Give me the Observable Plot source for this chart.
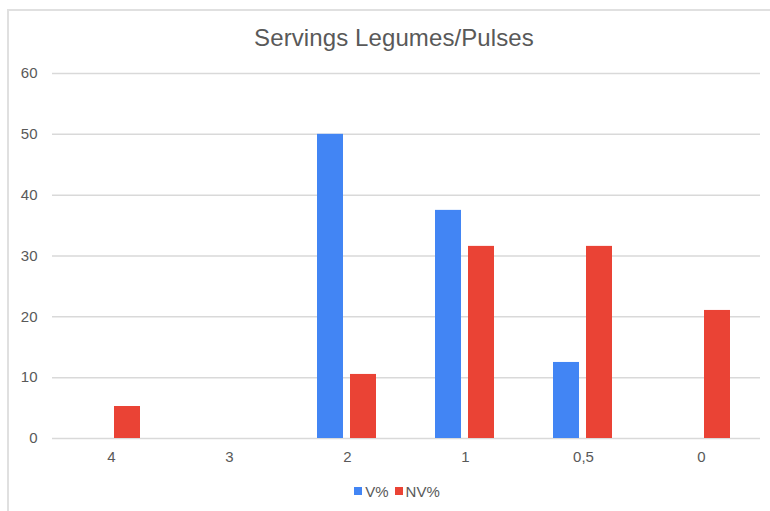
<!DOCTYPE html>
<html>
<head>
<meta charset="utf-8">
<script src="https://cdn.jsdelivr.net/npm/d3@7"></script>
<script src="https://cdn.jsdelivr.net/npm/@observablehq/plot@0.6"></script>
<style>
  html, body { margin: 0; padding: 0; background: #fff; }
  body { width: 770px; height: 511px; position: relative; overflow: hidden;
         font-family: "Liberation Sans", Arial, sans-serif; }
  #frame { position: absolute; left: 7px; top: 9px; width: 800px; height: 600px;
           border-left: 2px solid #e0e0e0; border-top: 2px solid #e0e0e0; }
  #title { position: absolute; left: 0; width: 788px; top: 24px; text-align: center;
           font-size: 24px; letter-spacing: 0.1px; color: #595959; }
  #chart { position: absolute; left: 0; top: 50px; }
  #legend { position: absolute; left: 0; width: 794px; top: 481px; text-align: center;
            font-size: 15px; color: #595959; }
  #legend span.item { display: inline-flex; align-items: center; margin: 0 3px; }
  #legend span.sw { width: 8px; height: 8px; display: inline-block; margin-right: 3px; }
  #chart svg text { font-size: 15px; fill: #595959; }
</style>
</head>
<body>
<div id="frame"></div>
<div id="title">Servings Legumes/Pulses</div>
<div id="chart"></div>
<div id="legend"></div>
<script>
// Servings categories along the x axis
const categories = ["4", "3", "2", "1", "0,5", "0"];
// Series names and their percentages per category
const seriesNames = ["V%", "NV%"];
const vValues = [0, 0, 50, 37.5, 12.5, 0];
const nvValues = [5.26, 0, 10.53, 31.58, 31.58, 21.05];
const seriesColors = ["#4285f4", "#ea4335"];
// y-axis ticks
const yTicks = [0, 10, 20, 30, 40, 50, 60];

const rows = [];
categories.forEach((c, i) => {
  rows.push({category: c, series: "V%", value: vValues[i]});
  rows.push({category: c, series: "NV%", value: nvValues[i]});
});

const chart = Plot.plot({
  width: 770,
  height: 420,
  marginLeft: 52,
  marginRight: 10,
  marginTop: 23,
  marginBottom: 32,
  style: {fontSize: "15px", color: "#595959", fontFamily: "'Liberation Sans', Arial, sans-serif", background: "transparent"},
  fx: {domain: categories, padding: 0, label: null, tickSize: 0, tickPadding: 13, axis: "bottom"},
  x: {domain: seriesNames, paddingInner: 0.2, paddingOuter: 0.88, axis: null},
  y: {domain: [0, 60], ticks: yTicks, tickSize: 0, tickPadding: 15, label: null, grid: false},
  color: {domain: seriesNames, range: seriesColors},
  facet: {data: rows, x: "category"},
  marks: [
    Plot.ruleY(yTicks, {stroke: "#d9d9d9", strokeWidth: 1.5}),
    Plot.barY(rows, {x: "series", y: "value", fill: "series", filter: d => d.value > 0})
  ]
});
document.getElementById("chart").appendChild(chart);

// Legend below the chart
const legend = document.getElementById("legend");
seriesNames.forEach((name, i) => {
  const item = document.createElement("span");
  item.className = "item";
  const sw = document.createElement("span");
  sw.className = "sw";
  sw.style.background = seriesColors[i];
  item.appendChild(sw);
  item.appendChild(document.createTextNode(name));
  legend.appendChild(item);
});
</script>
</body>
</html>
